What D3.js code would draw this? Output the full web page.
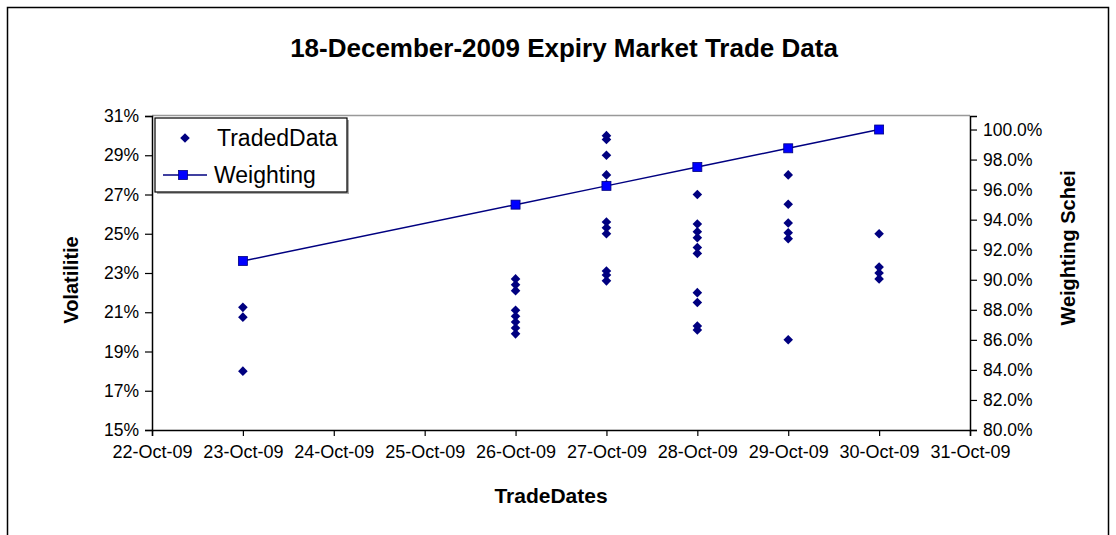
<!DOCTYPE html>
<meta charset="utf-8">
<head>
    <title>18-December-2009 Expiry Market Trade Data</title>
    <script src="https://d3js.org/d3.v7.min.js"></script>
    <style>
        body {
            margin: 0;
            background: #fff;
        }

        svg text {
            font-family: "Liberation Sans", Arial, sans-serif;
            fill: #000;
        }

        .axis path, .axis line {
            stroke: #000;
            stroke-width: 1.2;
        }
    </style>
</head>

<body>
<div id="chart"></div>

<script>
    // weighting scheme (right axis), one point per trade date
    var tradeDates = ["2009-10-23", "2009-10-26", "2009-10-27", "2009-10-28", "2009-10-29", "2009-10-30"]
    var weighting = [0.9125, 0.95, 0.9625, 0.975, 0.9875, 1.0]

    // traded volatilities (left axis, %) per trade date
    var tradedOct23 = [21.25, 20.75, 18.0]
    var tradedOct26 = [22.7, 22.4, 22.1, 21.1, 20.8, 20.5, 20.2, 19.9]
    var tradedOct27 = [30.0, 29.8, 29.0, 28.0, 27.5, 25.6, 25.3, 25.0, 23.1, 22.9, 22.6]
    var tradedOct28 = [27.0, 25.5, 25.1, 24.8, 24.3, 24.0, 22.0, 21.5, 20.3, 20.1]
    var tradedOct29 = [28.0, 26.5, 25.55, 25.05, 24.75, 19.6]
    var tradedOct30 = [25.0, 23.3, 23.0, 22.7]

    var tradedByDate = [tradedOct23, tradedOct26, tradedOct27, tradedOct28, tradedOct29, tradedOct30]

    var legendKeys = ["TradedData", "Weighting"]

    var width = 1116,
        height = 535;
    var margin = {top: 116, right: 146, bottom: 105, left: 152};

    var parseDate = d3.timeParse("%Y-%m-%d");

    var svg = d3.select("#chart")
        .append("svg")
        .attr("width", width)
        .attr("height", height);

    // chart border
    svg.append("rect")
        .attr("x", 7.5)
        .attr("y", 7.5)
        .attr("width", 1101)
        .attr("height", 560)
        .style("fill", "none")
        .style("stroke", "#000")
        .style("stroke-width", 1.5);

    var x = d3.scaleTime()
        .domain([parseDate("2009-10-22"), parseDate("2009-10-31")])
        .range([margin.left, width - margin.right]);

    var yLeft = d3.scaleLinear()
        .domain([0.15, 0.31])
        .range([height - margin.bottom, margin.top]);

    var yRight = d3.scaleLinear()
        .domain([0.80, 1.009])
        .range([height - margin.bottom, margin.top]);

    // plot area top edge
    svg.append("line")
        .attr("x1", margin.left)
        .attr("x2", width - margin.right)
        .attr("y1", margin.top - 0.5)
        .attr("y2", margin.top - 0.5)
        .style("stroke", "#999")
        .style("stroke-width", 1.5);

    // axes
    var xAxis = svg.append("g")
        .attr("class", "axis")
        .attr("transform", "translate(0," + (height - margin.bottom) + ")")
        .call(d3.axisBottom(x)
            .ticks(d3.timeDay.every(1))
            .tickFormat(d3.timeFormat("%d-%b-%y"))
            .tickSizeOuter(0)
            .tickSize(6));
    xAxis.selectAll("text")
        .attr("dy", "0.71em")
        .attr("y", 15)
        .style("font-size", "18px");

    var leftAxis = svg.append("g")
        .attr("class", "axis")
        .attr("transform", "translate(" + margin.left + ",0)")
        .call(d3.axisLeft(yLeft)
            .tickValues(d3.range(0.15, 0.3101, 0.02))
            .tickFormat(d3.format(".0%"))
            .tickSizeOuter(0)
            .tickSize(7));
    leftAxis.selectAll("text")
        .attr("x", -13)
        .style("font-size", "17.5px");

    var rightAxis = svg.append("g")
        .attr("class", "axis")
        .attr("transform", "translate(" + (width - margin.right) + ",0)")
        .call(d3.axisRight(yRight)
            .tickValues(d3.range(0.80, 1.0001, 0.02))
            .tickFormat(d3.format(".1%"))
            .tickSizeOuter(0)
            .tickSize(7));
    rightAxis.selectAll("text")
        .attr("x", 13)
        .style("font-size", "17.5px");

    svg.selectAll(".axis .domain").style("stroke-width", 1.5);

    // titles
    svg.append("text")
        .attr("x", 564)
        .attr("y", 57)
        .attr("text-anchor", "middle")
        .style("font-size", "26px")
        .style("font-weight", "bold")
        .text("18-December-2009 Expiry Market Trade Data");

    svg.append("text")
        .attr("x", 551)
        .attr("y", 503)
        .attr("text-anchor", "middle")
        .style("font-size", "21px")
        .style("font-weight", "bold")
        .text("TradeDates");

    svg.append("text")
        .attr("transform", "translate(78,280) rotate(-90)")
        .attr("text-anchor", "middle")
        .style("font-size", "20px")
        .style("font-weight", "bold")
        .text("Volatilitie");

    svg.append("text")
        .attr("transform", "translate(1075,248) rotate(-90)")
        .attr("text-anchor", "middle")
        .style("font-size", "20px")
        .style("font-weight", "bold")
        .text("Weighting Schei");

    // traded data points
    var points = [];
    tradeDates.forEach(function (d, i) {
        tradedByDate[i].forEach(function (v) {
            points.push({date: parseDate(d), vol: v / 100});
        });
    });

    // square turned 45 degrees, like the Excel diamond marker
    var diamond = d3.symbol().type(d3.symbolSquare).size(46);

    svg.append("g")
        .selectAll("path")
        .data(points)
        .enter()
        .append("path")
        .attr("d", diamond)
        .attr("transform", function (d) {
            return "translate(" + x(d.date) + "," + yLeft(d.vol) + ") rotate(45)";
        })
        .style("fill", "#000080");

    // weighting line
    var weightData = tradeDates.map(function (d, i) {
        return {date: parseDate(d), w: weighting[i]};
    });

    var line = d3.line()
        .x(function (d) { return x(d.date); })
        .y(function (d) { return yRight(d.w); });

    svg.append("path")
        .datum(weightData)
        .attr("d", line)
        .style("fill", "none")
        .style("stroke", "#000080")
        .style("stroke-width", 1.5);

    var sq = 9;
    svg.append("g")
        .selectAll("rect")
        .data(weightData)
        .enter()
        .append("rect")
        .attr("x", function (d) { return x(d.date) - sq / 2; })
        .attr("y", function (d) { return yRight(d.w) - sq / 2; })
        .attr("width", sq)
        .attr("height", sq)
        .style("fill", "#0000ff")
        .style("stroke", "#000080")
        .style("stroke-width", 0.8);

    // legend
    var legend = svg.append("g")
        .attr("transform", "translate(155,118)");

    legend.append("rect")
        .attr("x", 2)
        .attr("y", 2)
        .attr("width", 192)
        .attr("height", 74)
        .style("fill", "#aaa");

    legend.append("rect")
        .attr("width", 192)
        .attr("height", 74)
        .style("fill", "#fff")
        .style("stroke", "#000")
        .style("stroke-width", 1.2);

    legend.append("path")
        .attr("d", diamond)
        .attr("transform", "translate(30,20) rotate(45)")
        .style("fill", "#000080");

    legend.append("line")
        .attr("x1", 8)
        .attr("x2", 52)
        .attr("y1", 57)
        .attr("y2", 57)
        .style("stroke", "#000080")
        .style("stroke-width", 1.5);

    legend.append("rect")
        .attr("x", 28 - sq / 2)
        .attr("y", 57 - sq / 2)
        .attr("width", sq)
        .attr("height", sq)
        .style("fill", "#0000ff")
        .style("stroke", "#000080")
        .style("stroke-width", 0.8);

    legend.selectAll("text.lab")
        .data(legendKeys)
        .enter()
        .append("text")
        .attr("class", "lab")
        .attr("x", function (d, i) { return i === 0 ? 62 : 59; })
        .attr("y", function (d, i) { return 20 + i * 37; })
        .attr("dy", "0.35em")
        .style("font-size", "23px")
        .text(function (d) { return d; });
</script>
</body>
